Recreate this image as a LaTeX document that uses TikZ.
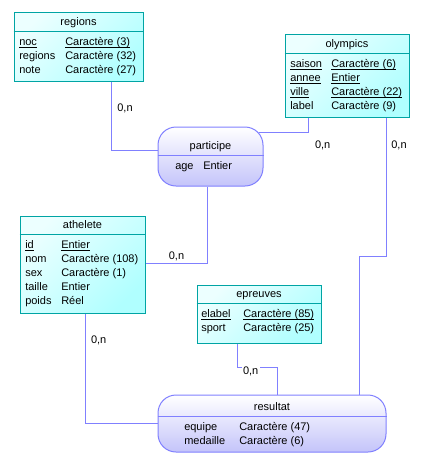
\documentclass[tikz,border=0pt]{standalone}
\usepackage{fontspec}
\setmainfont{Liberation Sans}
\usetikzlibrary{fit,calc}
\definecolor{entline}{HTML}{00A4A4}
\definecolor{entlight}{HTML}{ECFFFF}
\definecolor{entdark}{HTML}{B0FFFF}
\definecolor{relline}{HTML}{8080FF}
\definecolor{reldark}{HTML}{C4C4FA}
\definecolor{linkcol}{HTML}{8080FF}
\newcommand\keyattr[1]{\underline{\smash{#1}}}
\begin{document}
\begin{tikzpicture}[x=0.75pt, y=-0.75pt,
  every node/.style={font=\fontsize{8.25}{10}\selectfont, inner sep=0pt},
  entity/.style={draw=entline, line width=0.75pt, top color=entlight, bottom color=entdark, shading angle=45},
  relation/.style={draw=relline, line width=0.75pt, rounded corners=13.5pt, top color=white, bottom color=reldark},
  entsep/.style={draw=entline, line width=0.75pt},
  relsep/.style={draw=relline, line width=0.75pt},
  title/.style={anchor=base},
  attr/.style={anchor=base west},
  link/.style={draw=linkcol, line width=0.75pt},
  card/.style={anchor=base, inner sep=1pt}
  ]
  \useasboundingbox (0,0) rectangle (424,465);

  \node[entity, fit={(14,12) (143,81)}] (regions) {};
  \draw[entsep] ($(regions.north west)+(0,20)$) -- ($(regions.north east)+(0,20)$);
  \node[title] (regions-title) at (regions.north |- 0,25) {regions};
  \foreach \nm/\ty [count=\i] in {{\keyattr{noc}}/{\keyattr{Caractère (3)}}, regions/Caractère (32), note/Caractère (27)} {
    \node[attr] (regions-n\i) at (19,31+14*\i) {\nm};
    \node[attr] (regions-t\i) at (65,31+14*\i) {\ty};
  }

  \node[entity, fit={(285,34) (409,117)}] (olympics) {};
  \draw[entsep] ($(olympics.north west)+(0,20)$) -- ($(olympics.north east)+(0,20)$);
  \node[title] (olympics-title) at (olympics.north |- 0,47) {olympics};
  \foreach \nm/\ty [count=\i] in {{\keyattr{saison}}/{\keyattr{Caractère (6)}}, {\keyattr{annee}}/{\keyattr{Entier}}, {\keyattr{ville}}/{\keyattr{Caractère (22)}}, label/Caractère (9)} {
    \node[attr] (olympics-n\i) at (290,53+14*\i) {\nm};
    \node[attr] (olympics-t\i) at (331,53+14*\i) {\ty};
  }

  \node[relation, fit={(158,127) (263,186)}] (participe) {};
  \draw[relsep] ($(participe.north west)+(0,28.5)$) -- ($(participe.north east)+(0,28.5)$);
  \node[title] (participe-title) at (participe.north |- 0,149) {participe};
  \node[attr] (participe-n1) at (175,169) {age};
  \node[attr] (participe-t1) at (203,169) {Entier};

  \node[entity, fit={(20,216) (145,313)}] (athelete) {};
  \draw[entsep] ($(athelete.north west)+(0,19)$) -- ($(athelete.north east)+(0,19)$);
  \node[title] (athelete-title) at (athelete.north |- 0,228) {athelete};
  \foreach \nm/\ty [count=\i] in {{\keyattr{id}}/{\keyattr{Entier}}, nom/Caractère (108), sex/Caractère (1), taille/Entier, poids/Réel} {
    \node[attr] (athelete-n\i) at (25,234+14*\i) {\nm};
    \node[attr] (athelete-t\i) at (61,234+14*\i) {\ty};
  }

  \node[entity, fit={(197,285) (321,343)}] (epreuves) {};
  \draw[entsep] ($(epreuves.north west)+(0,19)$) -- ($(epreuves.north east)+(0,19)$);
  \node[title] (epreuves-title) at (epreuves.north |- 0,297.5) {epreuves};
  \foreach \nm/\ty [count=\i] in {{\keyattr{elabel}}/{\keyattr{Caractère (85)}}, sport/Caractère (25)} {
    \node[attr] (epreuves-n\i) at (201,303+14*\i) {\nm};
    \node[attr] (epreuves-t\i) at (243,303+14*\i) {\ty};
  }

  \node[relation, fit={(158,395) (386,452)}] (resultat) {};
  \draw[relsep] ($(resultat.north west)+(0,22)$) -- ($(resultat.north east)+(0,22)$);
  \node[title] (resultat-title) at (resultat.north |- 0,410) {resultat};
  \foreach \nm/\ty [count=\i] in {equipe/Caractère (47), medaille/Caractère (6)} {
    \node[attr] (resultat-n\i) at (184,416+14*\i) {\nm};
    \node[attr] (resultat-t\i) at (239,416+14*\i) {\ty};
  }

  \draw[link] ($(regions.south west)+(98,0)$) |- ($(participe.west)+(0,-6.5)$);
  \draw[link] ($(olympics.south west)+(24,0)$) |- ($(participe.north east)+(-5,6)$);
  \draw[link] ($(olympics.south east)+(-23,0)$) -- ++(0,139) -| ($(resultat.north west)+(202,0)$);
  \draw[link] ($(athelete.north east)+(0,48)$) -| ($(participe.south west)+(49.5,0)$);
  \draw[link] ($(athelete.south west)+(65.5,0)$) |- (resultat.west);
  \draw[link] ($(epreuves.south west)+(40.5,0)$) -- ++(0,24) -| ($(resultat.north west)+(119.5,0)$);

  \node[card] (card-regions) at (125,111) {0,n};
  \node[card] (card-olympics1) at (322.7,148) {0,n};
  \node[card] (card-olympics2) at (399,148) {0,n};
  \node[card] (card-athelete1) at (176.5,259.5) {0,n};
  \node[card] (card-athelete2) at (98.7,343) {0,n};
  \node[card, fill=white] (card-epreuves) at (250.7,374) {0,n};
\end{tikzpicture}
\end{document}
